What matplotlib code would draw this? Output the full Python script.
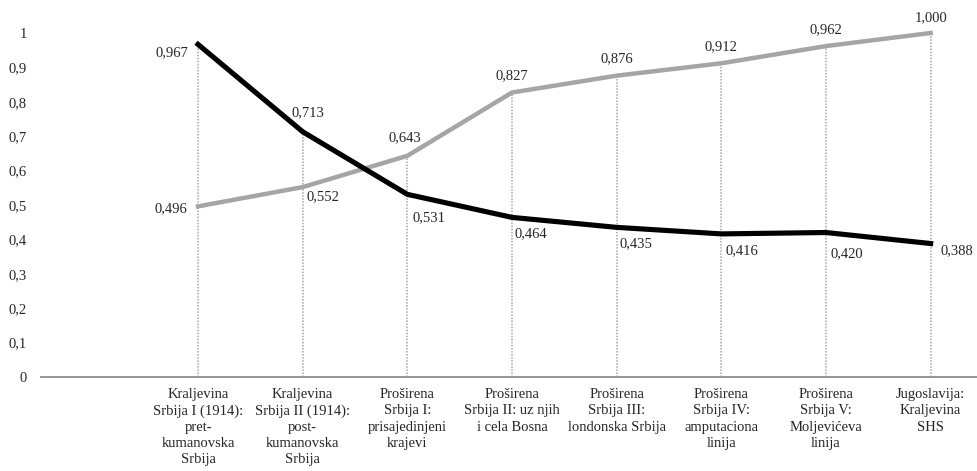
import numpy as np
import matplotlib
matplotlib.use('Agg')
import matplotlib.pyplot as plt

plt.rcParams['font.family'] = ['Liberation Serif', 'DejaVu Serif']

#%% data
categories = ['Kraljevina\nSrbija I (1914):\npret-\nkumanovska\nSrbija',
              'Kraljevina\nSrbija II (1914):\npost-\nkumanovska\nSrbija',
              'Proširena\nSrbija I:\nprisajedinjeni\nkrajevi',
              'Proširena\nSrbija II: uz njih\ni cela Bosna',
              'Proširena\nSrbija III:\nlondonska Srbija',
              'Proširena\nSrbija IV:\namputaciona\nlinija',
              'Proširena\nSrbija V:\nMoljevićeva\nlinija',
              'Jugoslavija:\nKraljevina\nSHS']
black_vals = [0.967, 0.713, 0.531, 0.464, 0.435, 0.416, 0.420, 0.388]
gray_vals = [0.496, 0.552, 0.643, 0.827, 0.876, 0.912, 0.962, 1.000]
yticks = [0, 0.1, 0.2, 0.3, 0.4, 0.5, 0.6, 0.7, 0.8, 0.9, 1]

# label offsets in points (dx, dy, ha)
black_pos = [(-7, -6, 'right'), (4, 14, 'center'), (4, -17, 'left'), (2, -12, 'left'),
             (2, -12, 'left'), (3, -12, 'left'), (3, -15, 'left'), (7, -5, 'left')]
gray_pos = [(-8, -2, 'right'), (3, -7, 'left'), (-2, 13, 'center'), (0, 12, 'center'),
            (0, 12, 'center'), (0, 12, 'center'), (0, 12, 'center'), (0, 11, 'center')]

fs = 10.5
W, H = 978, 471
fig = plt.figure(figsize=(W / 100, H / 100), dpi=100)
ax = fig.add_axes([41 / W, 94 / H, 942 / W, 344 / H])

x = np.arange(1, len(categories) + 1)

# drop lines
for xi, b, g in zip(x, black_vals, gray_vals):
    ax.plot([xi, xi], [0, max(b, g)], color='#a6a6a6', lw=1.1, ls=(0, (1, 1)), zorder=1)

ax.plot(x, gray_vals, color='#a5a5a5', lw=3.2, solid_joinstyle='round', clip_on=False, zorder=3)
ax.plot(x, black_vals, color='#000000', lw=3.7, solid_joinstyle='round', clip_on=False, zorder=4)

def fmt(v):
    return ('%.3f' % v).replace('.', ',')

for xi, v, (dx, dy, ha) in zip(x, black_vals, black_pos):
    ax.annotate(fmt(v), (xi, v), xytext=(dx, dy), textcoords='offset points',
                ha=ha, va='center', fontsize=fs, color='#262626', annotation_clip=False)
for xi, v, (dx, dy, ha) in zip(x, gray_vals, gray_pos):
    ax.annotate(fmt(v), (xi, v), xytext=(dx, dy), textcoords='offset points',
                ha=ha, va='center', fontsize=fs, color='#262626', annotation_clip=False)

ax.set_xlim(-0.5, len(categories) + 0.5)
ax.set_ylim(0, 1)
ax.set_xticks(x)
ax.set_xticklabels(categories, fontsize=fs, color='#262626', linespacing=1.32, va='top')
ax.set_yticks(yticks)
ax.set_yticklabels([('%g' % t).replace('.', ',') for t in yticks], fontsize=fs, color='#262626')
ax.tick_params(axis='both', length=0)
ax.tick_params(axis='y', pad=10)
ax.tick_params(axis='x', pad=8)

for s in ['top', 'right', 'left']:
    ax.spines[s].set_visible(False)
ax.spines['bottom'].set_color('#8c8c8c')
ax.spines['bottom'].set_linewidth(1.3)
ax.patch.set_alpha(0)

fig.savefig('out.png', dpi=100)
